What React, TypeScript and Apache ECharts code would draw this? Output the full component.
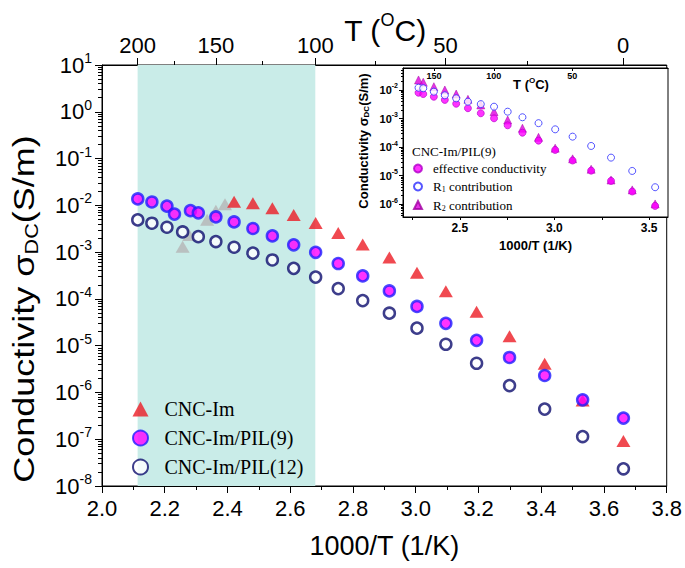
import React, { useEffect, useRef } from "react";
import * as echarts from "echarts";

// ---------- main plot data: x = 1000/T (1/K), y = sigma_DC (S/m) ----------
const imX = [2.421, 2.481, 2.543, 2.611, 2.681, 2.753, 2.831, 2.916, 3.004, 3.096, 3.194, 3.299, 3.411, 3.532, 3.662];
const imY = [1.2e-2, 1.11e-2, 8.7e-3, 6.2e-3, 4.2e-3, 2.57e-3, 1.46e-3, 7.7e-4, 3.6e-4, 1.45e-4, 5.3e-5, 1.58e-5, 4.1e-6, 6.7e-7, 9.2e-8];

const imGrayX = [2.257, 2.278, 2.335, 2.363, 2.392];
const imGrayY = [1.31e-3, 2.33e-3, 4.9e-3, 7.7e-3, 1.06e-2];

const pil9X = [2.114, 2.159, 2.207, 2.231, 2.282, 2.307, 2.363, 2.421, 2.481, 2.543, 2.611, 2.681, 2.753, 2.831, 2.916, 3.004, 3.096, 3.194, 3.299, 3.411, 3.532, 3.662];
const pil9Y = [1.37e-2, 1.18e-2, 9.6e-3, 6.5e-3, 7.7e-3, 6.9e-3, 5.65e-3, 4.42e-3, 3.2e-3, 2.22e-3, 1.43e-3, 9.9e-4, 5.7e-4, 3.1e-4, 1.48e-4, 6.9e-5, 3.0e-5, 1.3e-5, 5.6e-6, 2.3e-6, 6.95e-7, 2.83e-7];

const pil12X = [2.114, 2.159, 2.207, 2.257, 2.307, 2.363, 2.421, 2.481, 2.543, 2.611, 2.681, 2.753, 2.831, 2.916, 3.004, 3.096, 3.194, 3.299, 3.411, 3.532, 3.662];
const pil12Y = [4.88e-3, 4.15e-3, 3.4e-3, 2.7e-3, 2.14e-3, 1.68e-3, 1.27e-3, 9.5e-4, 6.8e-4, 4.5e-4, 2.92e-4, 1.66e-4, 9.2e-5, 4.95e-5, 2.37e-5, 1.07e-5, 4.2e-6, 1.4e-6, 4.4e-7, 1.14e-7, 2.33e-8];

// ---------- inset data (CNC-Im/PIL(9)) ----------
const insetX = [2.282, 2.307, 2.363, 2.421, 2.481, 2.543, 2.611, 2.681, 2.753, 2.831, 2.916, 3.004, 3.096, 3.194, 3.299, 3.411, 3.532];
const effY = [8.0e-3, 7.2e-3, 5.8e-3, 4.5e-3, 3.3e-3, 2.3e-3, 1.53e-3, 1.02e-3, 5.8e-4, 3.2e-4, 1.69e-4, 8.0e-5, 3.4e-5, 1.51e-5, 6.6e-6, 2.8e-6, 8.8e-7];
const r1Y = [1.2e-2, 1.15e-2, 8.7e-3, 6.5e-3, 5.1e-3, 3.9e-3, 3.2e-3, 2.6e-3, 1.74e-3, 1.11e-3, 6.9e-4, 4.2e-4, 2.33e-4, 1.1e-4, 4.3e-5, 1.47e-5, 3.96e-6];
const r2Y = [2.24e-2, 1.86e-2, 1.3e-2, 1.0e-2, 7.2e-3, 4.7e-3, 3.0e-3, 1.74e-3, 8.9e-4, 4.6e-4, 2.2e-4, 9.2e-5, 3.9e-5, 1.69e-5, 7.1e-6, 3.2e-6, 1.03e-6];

// ---------- ticks ----------
const topMajorC = [200, 150, 100, 50, 0];
const topMinorC = [175, 125, 75, 25];
const insetTopC = [150, 100, 50];
const shadeC = [200, 100];
const mainDecades = [-8, -7, -6, -5, -4, -3, -2, -1, 0, 1];
const insetDecades = [-6, -5, -4, -3, -2];
const insetXLabels = [2.5, 3.0, 3.5];
const insetXTicks = [2.25, 2.5, 2.75, 3.0, 3.25, 3.5];
const minorMult = [2, 3, 4, 5, 6, 7, 8, 9];

const SANS = "Liberation Sans";
const SERIF = "Liberation Serif";

const cToX = (c: number) => 1000 / (c + 273.15);
const pairs = (xs: number[], ys: number[]) => xs.map((x, i) => [x, ys[i]]);
const decadeVals = (ds: number[]) => ds.map((d) => Math.pow(10, d));
const minorVals = (ds: number[]) => {
  const out: number[] = [];
  ds.forEach((d) => minorMult.forEach((m) => out.push(m * Math.pow(10, d))));
  return out;
};
const expOf = (v: number) => Math.round(Math.log10(v));

function buildOption(): any {
  const mainMajor = decadeVals(mainDecades);
  const mainMinor = minorVals(mainDecades.slice(0, -1));
  const insetMajor = decadeVals(insetDecades);
  const insetMinor = minorVals([-7, -6, -5, -4, -3, -2]).filter((v) => v > 3.6e-7 && v < 0.0587);
  const black = { color: "#000", width: 1 };

  return {
    animation: false,
    backgroundColor: "#fff",
    grid: [
      { left: 102, top: 65, width: 566, height: 421, show: true, borderColor: "#000", borderWidth: 1, backgroundColor: "transparent" },
      { left: 403, top: 68, width: 265, height: 149, show: true, borderColor: "#000", borderWidth: 1, backgroundColor: "#fff", z: 10 },
    ],
    xAxis: [
      {
        gridIndex: 0, type: "value", min: 2, max: 3.8, interval: 0.2, position: "bottom",
        axisLine: { show: true, lineStyle: black },
        axisTick: { show: true, length: 7, lineStyle: black },
        minorTick: { show: true, splitNumber: 2, length: 4, lineStyle: black },
        splitLine: { show: false }, minorSplitLine: { show: false },
        axisLabel: { fontFamily: SANS, fontSize: 22, color: "#000", margin: 11, formatter: (v: number) => v.toFixed(1) },
        name: "1000/T (1/K)", nameLocation: "middle", nameGap: 46,
        nameTextStyle: { fontFamily: SANS, fontSize: 27, color: "#000" },
      },
      {
        gridIndex: 0, type: "value", min: 2, max: 3.8, position: "top",
        axisLine: { show: true, lineStyle: black },
        axisTick: { show: true, length: 7, lineStyle: black, customValues: topMajorC.map(cToX) },
        axisLabel: {
          fontFamily: SANS, fontSize: 22, color: "#000", margin: 9,
          customValues: topMajorC.map(cToX),
          formatter: (v: number) => String(Math.round(1000 / v - 273.15)),
        },
        splitLine: { show: false },
      },
      {
        gridIndex: 0, type: "value", min: 2, max: 3.8, position: "top",
        axisLine: { show: false },
        axisTick: { show: true, length: 4, lineStyle: black, customValues: topMinorC.map(cToX) },
        axisLabel: { show: false },
        splitLine: { show: false },
      },
      {
        gridIndex: 1, type: "value", min: 2.2, max: 3.6, position: "bottom", z: 11,
        axisLine: { show: true, lineStyle: black },
        axisTick: { show: true, length: 3, lineStyle: black, customValues: insetXTicks },
        axisLabel: {
          fontFamily: SANS, fontSize: 12, fontWeight: "bold", color: "#000", margin: 5,
          customValues: insetXLabels, formatter: (v: number) => v.toFixed(1),
        },
        splitLine: { show: false },
        name: "1000/T (1/K)", nameLocation: "middle", nameGap: 22,
        nameTextStyle: { fontFamily: SANS, fontSize: 13, fontWeight: "bold", color: "#000" },
      },
      {
        gridIndex: 1, type: "value", min: 2.2, max: 3.6, position: "top", z: 11,
        axisLine: { show: true, lineStyle: black },
        axisTick: { show: true, inside: true, length: 3, lineStyle: black, customValues: insetTopC.map(cToX) },
        axisLabel: {
          inside: true, fontFamily: SANS, fontSize: 9, fontWeight: "bold", color: "#000", margin: 3,
          customValues: insetTopC.map(cToX),
          formatter: (v: number) => String(Math.round(1000 / v - 273.15)),
        },
        splitLine: { show: false },
      },
    ],
    yAxis: [
      {
        gridIndex: 0, type: "log", logBase: 10, min: 1e-8, max: 10, position: "left",
        axisLine: { show: true, lineStyle: black },
        axisTick: { show: true, length: 7, lineStyle: black, customValues: mainMajor },
        splitLine: { show: false },
        axisLabel: {
          customValues: mainMajor, margin: 10, color: "#000",
          formatter: (v: number) => `{a|10}{b|${expOf(v)}}`,
          rich: {
            a: { fontFamily: SANS, fontSize: 22, color: "#000" },
            b: { fontFamily: SANS, fontSize: 14, color: "#000", padding: [0, 0, 14, 0] },
          },
        },
      },
      {
        gridIndex: 0, type: "log", logBase: 10, min: 1e-8, max: 10, position: "left",
        axisLine: { show: false },
        axisTick: { show: true, length: 4, lineStyle: black, customValues: mainMinor },
        axisLabel: { show: false },
        splitLine: { show: false },
      },
      {
        gridIndex: 1, type: "log", logBase: 10, min: 3.6e-7, max: 0.0587, position: "left", z: 11,
        axisLine: { show: true, lineStyle: black },
        axisTick: { show: true, length: 4, lineStyle: black, customValues: insetMajor },
        splitLine: { show: false },
        axisLabel: {
          customValues: insetMajor, margin: 5, color: "#000",
          formatter: (v: number) => `{a|10}{b|${expOf(v)}}`,
          rich: {
            a: { fontFamily: SANS, fontSize: 11, fontWeight: "bold", color: "#000" },
            b: { fontFamily: SANS, fontSize: 7, fontWeight: "bold", color: "#000", padding: [0, 0, 8, 0] },
          },
        },
      },
      {
        gridIndex: 1, type: "log", logBase: 10, min: 3.6e-7, max: 0.0587, position: "left", z: 11,
        axisLine: { show: false },
        axisTick: { show: true, length: 2, lineStyle: black, customValues: insetMinor },
        axisLabel: { show: false },
        splitLine: { show: false },
      },
    ],
    legend: [
      {
        data: ["CNC-Im", "CNC-Im/PIL(9)", "CNC-Im/PIL(12)"],
        orient: "vertical", left: 127, top: 394, itemWidth: 16, itemHeight: 15, itemGap: 9,
        symbolKeepAspect: true,
        textStyle: { fontFamily: SERIF, fontSize: 20, color: "#000", padding: [0, 0, 0, 11] },
      },
      {
        data: ["effective conductivity", "R1 contribution", "R2 contribution"],
        orient: "vertical", left: 408, top: 157, itemWidth: 8, itemHeight: 8, itemGap: 5, z: 12,
        symbolKeepAspect: true,
        textStyle: {
          fontFamily: SERIF, fontSize: 13, color: "#000", padding: [0, 0, 0, 6],
          rich: {
            n: { fontFamily: SERIF, fontSize: 13, color: "#000" },
            s: { fontFamily: SERIF, fontSize: 8, color: "#000", padding: [6, 0, 0, 0] },
          },
        },
        formatter: (name: string) =>
          name.charAt(0) === "R" ? `{n|R}{s|${name.charAt(1)}}{n|${name.slice(2)}}` : `{n|${name}}`,
      },
    ],
    graphic: [
      {
        type: "text", x: 24, y: 309, rotation: Math.PI / 2, scaleX: 1.2, z: 5,
        style: {
          text: "{a|Conductivity σ}{b|DC}{a|(S/m)}",
          align: "center", verticalAlign: "middle", fill: "#000",
          rich: {
            a: { fontFamily: SANS, fontSize: 30, fill: "#000", color: "#000" },
            b: { fontFamily: SANS, fontSize: 18, fill: "#000", color: "#000", padding: [16, 0, 0, 0] },
          },
        },
      },
      {
        type: "text", x: 385, y: 30, z: 5,
        style: {
          text: "{a|T (}{b|O}{a|C)}",
          align: "center", verticalAlign: "middle", fill: "#000",
          rich: {
            a: { fontFamily: SANS, fontSize: 30, fill: "#000", color: "#000" },
            b: { fontFamily: SANS, fontSize: 18, fill: "#000", color: "#000", padding: [0, 0, 20, 0] },
          },
        },
      },
      {
        type: "text", x: 363, y: 141, rotation: Math.PI / 2, z: 12,
        style: {
          text: "{a|Conductivity σ}{b|DC}{a|(S/m)}",
          align: "center", verticalAlign: "middle", fill: "#000",
          rich: {
            a: { fontFamily: SANS, fontSize: 13, fontWeight: "bold", fill: "#000", color: "#000" },
            b: { fontFamily: SANS, fontSize: 8, fontWeight: "bold", fill: "#000", color: "#000", padding: [7, 0, 0, 0] },
          },
        },
      },
      {
        type: "text", x: 531, y: 84, z: 12,
        style: {
          text: "{a|T (}{b|O}{a|C)}",
          align: "center", verticalAlign: "middle", fill: "#000",
          rich: {
            a: { fontFamily: SANS, fontSize: 13, fontWeight: "bold", fill: "#000", color: "#000" },
            b: { fontFamily: SANS, fontSize: 8, fontWeight: "bold", fill: "#000", color: "#000", padding: [0, 0, 8, 0] },
          },
        },
      },
      {
        type: "text", x: 412, y: 151, z: 12,
        style: {
          text: "CNC-Im/PIL(9)", align: "left", verticalAlign: "middle", fill: "#000",
          font: `13px "${SERIF}"`,
        },
      },
    ],
    series: [
      {
        name: "CNC-Im (grey)", type: "scatter", xAxisIndex: 0, yAxisIndex: 0, z: 2,
        symbol: "triangle", symbolSize: [14, 12],
        itemStyle: { color: "#b5b5b5" },
        data: pairs(imGrayX, imGrayY),
        markArea: {
          silent: true,
          itemStyle: { color: "#c9ece8", opacity: 1 },
          data: [[{ xAxis: cToX(shadeC[0]) }, { xAxis: cToX(shadeC[1]) }]],
        },
      },
      {
        name: "CNC-Im", type: "scatter", xAxisIndex: 0, yAxisIndex: 0, z: 3,
        symbol: "triangle", symbolSize: [14, 12],
        itemStyle: { color: "#ec1c24" },
        data: pairs(imX, imY),
      },
      {
        name: "CNC-Im/PIL(9)", type: "scatter", xAxisIndex: 0, yAxisIndex: 0, z: 3,
        symbol: "circle", symbolSize: 11,
        itemStyle: { color: "#ff00ff", borderColor: "#1e1eff", borderWidth: 2.5 },
        data: pairs(pil9X, pil9Y),
      },
      {
        name: "CNC-Im/PIL(12)", type: "scatter", xAxisIndex: 0, yAxisIndex: 0, z: 3,
        symbol: "circle", symbolSize: 11,
        itemStyle: { color: "#ffffff", borderColor: "#0c0c6e", borderWidth: 2.5 },
        data: pairs(pil12X, pil12Y),
      },
      {
        name: "effective conductivity", type: "scatter", xAxisIndex: 3, yAxisIndex: 2, z: 13,
        symbol: "circle", symbolSize: 7,
        itemStyle: { color: "#ff00ff", borderColor: "#b000c8", borderWidth: 0.8 },
        data: pairs(insetX, effY),
      },
      {
        name: "R1 contribution", type: "scatter", xAxisIndex: 3, yAxisIndex: 2, z: 13,
        symbol: "circle", symbolSize: 7,
        itemStyle: { color: "#ffffff", borderColor: "#2b2bff", borderWidth: 1 },
        data: pairs(insetX, r1Y),
      },
      {
        name: "R2 contribution", type: "scatter", xAxisIndex: 3, yAxisIndex: 2, z: 12,
        symbol: "triangle", symbolSize: 8,
        itemStyle: { color: "#e000e0", borderColor: "#a000a0", borderWidth: 0.6 },
        data: pairs(insetX, r2Y),
      },
    ],
  };
}

export default function App() {
  const ref = useRef<HTMLDivElement>(null);
  useEffect(() => {
    if (!ref.current) return;
    const chart = echarts.init(ref.current, null, { renderer: "svg" });
    chart.setOption(buildOption());
    return () => chart.dispose();
  }, []);
  return (
    <div
      ref={ref}
      style={{ position: "absolute", left: 0, top: 0, width: 685, height: 568, background: "#fff" }}
    />
  );
}
